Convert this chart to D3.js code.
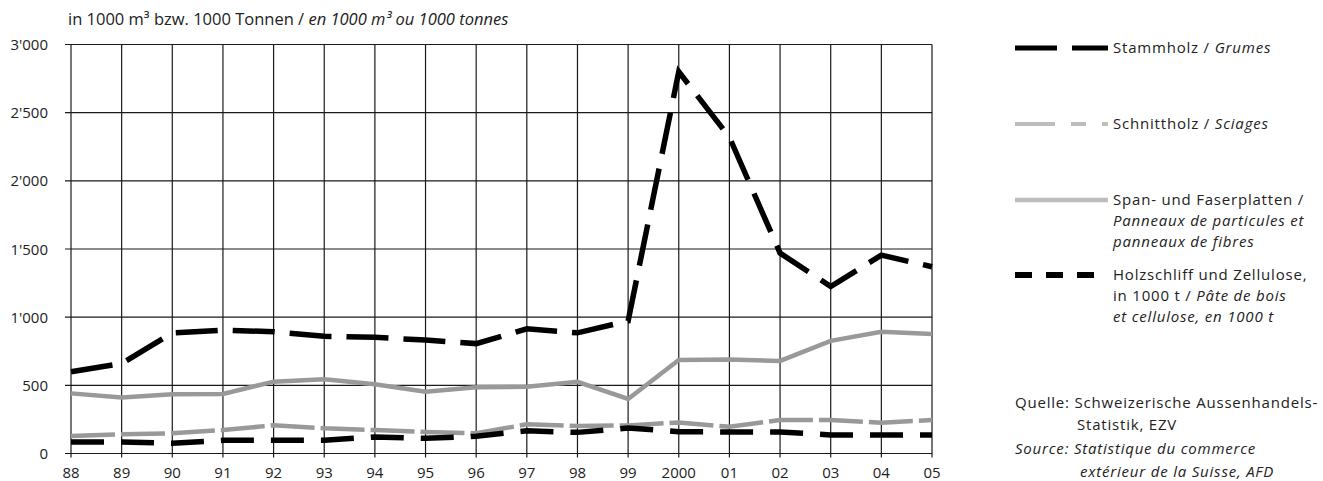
<!DOCTYPE html>
<html>
<head>
<meta charset="utf-8">
<script src="https://cdn.jsdelivr.net/npm/d3@7"></script>
<style>
  html, body { margin: 0; padding: 0; background: #fff; }
  svg { display: block; font-family: "Open Sans", sans-serif; }
</style>
</head>
<body>
<svg id="chart" width="1323" height="481"></svg>
<script>
const years = ["88","89","90","91","92","93","94","95","96","97","98","99","2000","01","02","03","04","05"];
const yTicks = [0, 500, 1000, 1500, 2000, 2500, 3000];
const stammholz   = [600, 660, 885, 905, 893, 860, 852, 832, 806, 915, 885, 972, 2800, 2320, 1470, 1225, 1455, 1370];
const schnittholz = [128, 141, 148, 172, 207, 185, 172, 158, 148, 214, 202, 206, 228, 196, 245, 245, 226, 245];
const span        = [441, 410, 434, 437, 527, 545, 508, 453, 486, 490, 526, 400, 686, 690, 679, 826, 893, 877];
const holzschliff = [85, 85, 75, 97, 97, 97, 121, 111, 127, 166, 155, 187, 160, 158, 158, 136, 136, 136];

const svg = d3.select("#chart");
const x = d3.scalePoint().domain(years).range([71, 932]);
const y = d3.scaleLinear().domain([0, 3000]).range([453.5, 44.5]);

const fmt = v => {
  const s = String(v);
  return s.length > 3 ? s.slice(0, s.length - 3) + "'" + s.slice(-3) : s;
};

const axisFont = 15;
const titleFont = 16.5;
const legFont = 15;
const legSpacing = 0.8;
const lineGap = 21;

// Grid
const g = svg.append("g");
g.selectAll("line.h").data(yTicks).join("line")
  .attr("x1", 65).attr("x2", x("05"))
  .attr("y1", d => y(d)).attr("y2", d => y(d))
  .attr("stroke", "#1a1a1a").attr("stroke-width", 1.2);
g.selectAll("line.v").data(years).join("line")
  .attr("x1", d => x(d)).attr("x2", d => x(d))
  .attr("y1", y(3000)).attr("y2", y(0) + 4)
  .attr("stroke", "#1a1a1a").attr("stroke-width", 1.2);

// Axis labels
g.selectAll("text.y").data(yTicks).join("text")
  .attr("x", 48).attr("y", d => y(d) + 5.5)
  .attr("text-anchor", "end").attr("font-size", axisFont).attr("fill", "#222")
  .text(fmt);
g.selectAll("text.x").data(years).join("text")
  .attr("x", d => x(d)).attr("y", 478)
  .attr("text-anchor", "middle").attr("font-size", axisFont).attr("fill", "#222")
  .text(d => d);

// Title
const t = svg.append("text").attr("x", 68).attr("y", 25).attr("font-size", titleFont).attr("fill", "#222");
t.append("tspan").text("in 1000 m³ bzw. 1000 Tonnen / ");
t.append("tspan").attr("font-style", "italic").text("en 1000 m³ ou 1000 tonnes");

// Series lines
const line = d3.line().x((d, i) => x(years[i])).y(d => y(d));
const series = [
  { data: span, color: "#999", width: 4.5, dash: null },
  { data: schnittholz, color: "#999", width: 4.5, dash: "44,6" },
  { data: holzschliff, color: "#000", width: 5.5, dash: "33,17" },
  { data: stammholz, color: "#000", width: 5.5, dash: "42,15" }
];
series.forEach(s => {
  svg.append("path").attr("d", line(s.data))
    .attr("fill", "none").attr("stroke", s.color).attr("stroke-width", s.width)
    .attr("stroke-dasharray", s.dash).attr("stroke-linejoin", "miter");
});

// Legend
const legend = [
  { ly: 48, color: "#000", width: 5, dash: "42,15", lines: [[["Stammholz / ", false], ["Grumes", true]]], ty: 53 },
  { ly: 124, color: "#bdbdbd", width: 4, dash: "40,16,15,16", lines: [[["Schnittholz / ", false], ["Sciages", true]]], ty: 129 },
  { ly: 200, color: "#bdbdbd", width: 4.5, dash: null, lines: [[["Span- und Faserplatten /", false]], [["Panneaux de particules et", true]], [["panneaux de fibres", true]]], ty: 205 },
  { ly: 275, color: "#000", width: 6, dash: "17,14", lines: [[["Holzschliff und Zellulose,", false]], [["in 1000 t / ", false], ["Pâte de bois", true]], [["et cellulose, en 1000 t", true]]], ty: 280 }
];
legend.forEach(l => {
  svg.append("line").attr("x1", 1015).attr("x2", 1108).attr("y1", l.ly).attr("y2", l.ly)
    .attr("stroke", l.color).attr("stroke-width", l.width).attr("stroke-dasharray", l.dash);
  l.lines.forEach((parts, i) => {
    const tx = svg.append("text").attr("x", 1113).attr("y", l.ty + i * lineGap)
      .attr("font-size", legFont).attr("letter-spacing", legSpacing).attr("fill", "#222");
    parts.forEach(p => tx.append("tspan").attr("font-style", p[1] ? "italic" : null).text(p[0]));
  });
});

// Source
const src = [
  { x: 1015, y: 408, text: "Quelle: Schweizerische Aussenhandels-", it: false },
  { x: 1077, y: 430, text: "Statistik, EZV", it: false },
  { x: 1015, y: 454, text: "Source: Statistique du commerce", it: true },
  { x: 1080, y: 477, text: "extérieur de la Suisse, AFD", it: true }
];
src.forEach(s => svg.append("text").attr("x", s.x).attr("y", s.y).attr("font-size", legFont)
  .attr("letter-spacing", legSpacing)
  .attr("fill", "#222").attr("font-style", s.it ? "italic" : null).text(s.text));
</script>
</body>
</html>
